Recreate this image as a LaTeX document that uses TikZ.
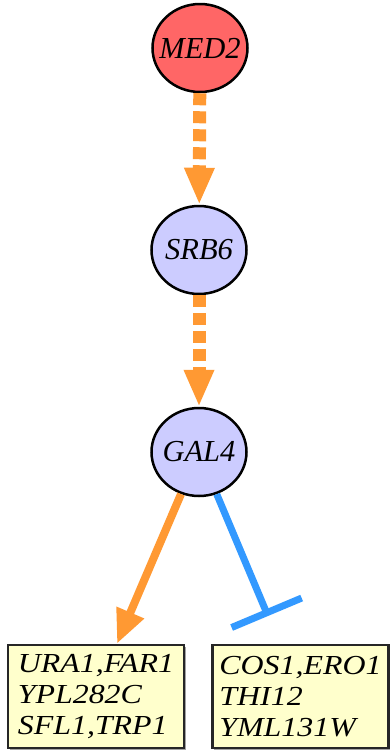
\documentclass[tikz,border=0pt]{standalone}
\usepackage{fontspec}
\setmainfont{Liberation Serif}
\newfontfamily\boxfont{Liberation Serif}[FakeStretch=1.16]
\usetikzlibrary{arrows.meta,shapes.geometric,shadows}
\definecolor{nodered}{RGB}{255,102,102}
\definecolor{nodeblue}{RGB}{204,204,255}
\definecolor{boxyellow}{RGB}{255,255,204}
\definecolor{edgeorange}{RGB}{255,153,51}
\definecolor{edgeblue}{RGB}{51,153,255}
\newcommand{\genelabel}[1]{\makebox[0pt][c]{#1}}
\tikzset{
  gene/.style={ellipse, draw=black, line width=2.5pt, inner sep=0pt,
    minimum width=95pt, minimum height=88pt,
    font=\fontsize{30.5}{36}\selectfont\itshape},
  genebox/.style={rectangle, draw=black!85, line width=2.5pt, fill=boxyellow,
    minimum width=176pt, minimum height=103pt, inner sep=0pt, align=left,
    font=\boxfont\fontsize{27.5}{31}\selectfont\itshape,
    drop shadow={shadow xshift=1.5pt, shadow yshift=-1.5pt, fill=black!45, opacity=0.8}},
  dashact/.style={draw=edgeorange, line width=13pt, dash pattern=on 12pt off 6pt,
    -{Triangle[length=37pt,width=28pt]}},
  act/.style={draw=edgeorange, line width=8pt, -{Triangle[length=34pt,width=28pt]}},
  inhib/.style={draw=edgeblue, line width=7pt, -{Bar[width=76pt]}}
}
\begin{document}
\begin{tikzpicture}[x=1pt,y=-1pt]
\useasboundingbox (0,0) rectangle (389,750);
\node[gene, fill=nodered] (MED2) at (200,48) {\genelabel{MED2}};
\node[gene, fill=nodeblue] (SRB6) at (199,250) {\genelabel{SRB6}};
\node[gene, fill=nodeblue] (GAL4) at (199,452) {\genelabel{GAL4}};
\node[genebox] (L) at (96,696.5) {URA1,FAR1\\YPL282C\\SFL1,TRP1};
\node[genebox] (R) at (300.5,696.5) {COS1,ERO1\\THI12\\YML131W};
\coordinate (ltip) at ([xshift=21pt]L.north);
\coordinate (rtip) at (268,616);
\draw[dashact] (MED2) -- (SRB6);
\draw[dashact] (SRB6) -- (GAL4);
\draw[act] (GAL4) -- (ltip);
\draw[inhib] (GAL4) -- (rtip);
\end{tikzpicture}
\end{document}
